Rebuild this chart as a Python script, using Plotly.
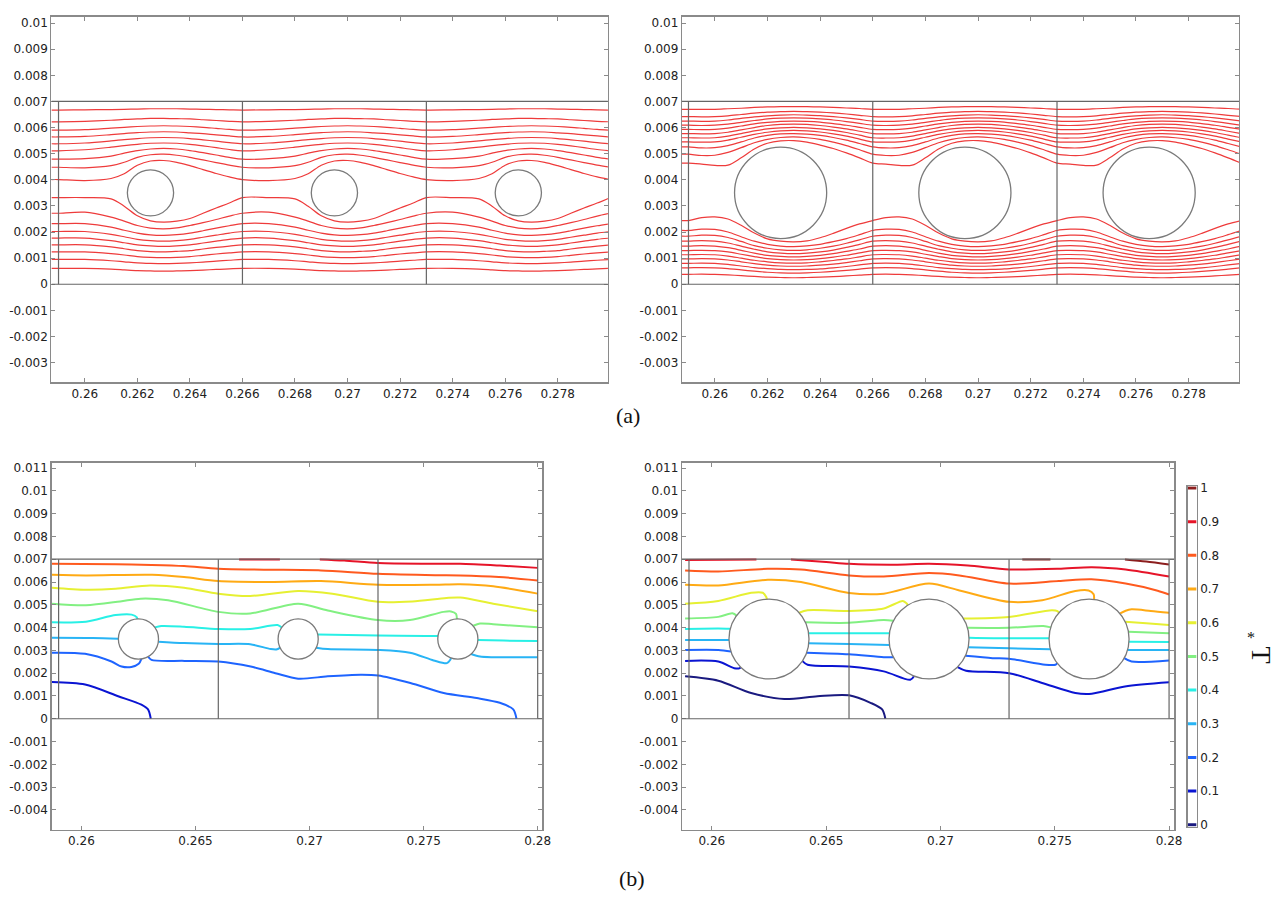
import plotly.graph_objects as go

W, H = 1287, 903

# ---------------- geometry (mm) ----------------
CELL_STARTS = [259.0, 266.0, 273.0]
DOMAIN_X = [259.0, 266.0, 273.0, 280.0]      # vertical cell boundaries
CHANNEL_Y = [0.0, 7.0]                       # bottom / top walls
CYL_CENTERS_X = [262.5, 269.5, 276.5]
CYL_CENTER_Y = 3.5
R_SMALL = 0.88
R_LARGE = 1.75

# ---------------- (a) left: streamlines, one periodic cell (mm) ----------------
TL_OFFSETS = [0, 1, 2, 2.5, 3, 3.5, 4, 4.5, 5, 5.5, 6, 6.5, 7]
TL_LINES = [
    [6.67, 6.68, 6.69, 6.70, 6.71, 6.72, 6.72, 6.72, 6.71, 6.70, 6.69, 6.68, 6.67],
    [6.22, 6.24, 6.28, 6.31, 6.33, 6.35, 6.35, 6.34, 6.33, 6.30, 6.27, 6.24, 6.22],
    [5.90, 5.92, 5.98, 6.01, 6.04, 6.06, 6.07, 6.06, 6.04, 6.01, 5.97, 5.93, 5.90],
    [5.64, 5.66, 5.73, 5.77, 5.81, 5.83, 5.84, 5.83, 5.80, 5.77, 5.72, 5.68, 5.64],
    [5.38, 5.41, 5.49, 5.54, 5.58, 5.61, 5.62, 5.61, 5.58, 5.53, 5.48, 5.42, 5.38],
    [5.11, 5.15, 5.25, 5.31, 5.36, 5.40, 5.41, 5.40, 5.36, 5.30, 5.23, 5.16, 5.11],
    [4.79, 4.81, 4.91, 5.02, 5.12, 5.18, 5.20, 5.18, 5.12, 5.04, 4.95, 4.86, 4.79],
    [4.48, 4.46, 4.54, 4.67, 4.86, 4.96, 4.98, 4.94, 4.86, 4.76, 4.66, 4.56, 4.48],
    [4.01, 3.97, 4.05, 4.23, 4.56, 4.72, 4.74, 4.67, 4.54, 4.39, 4.24, 4.11, 4.01],
    [3.32, 3.32, 3.27, 2.99, 2.62, 2.43, 2.38, 2.42, 2.52, 2.72, 2.92, 3.11, 3.32],
    [2.72, 2.76, 2.57, 2.42, 2.25, 2.15, 2.12, 2.16, 2.25, 2.36, 2.48, 2.61, 2.72],
    [2.32, 2.32, 2.19, 2.07, 1.96, 1.89, 1.87, 1.90, 1.96, 2.05, 2.15, 2.24, 2.32],
    [2.02, 2.02, 1.91, 1.82, 1.72, 1.67, 1.65, 1.67, 1.72, 1.80, 1.88, 1.96, 2.02],
    [1.77, 1.77, 1.67, 1.59, 1.51, 1.47, 1.45, 1.47, 1.51, 1.58, 1.65, 1.72, 1.77],
    [1.51, 1.51, 1.43, 1.36, 1.29, 1.25, 1.24, 1.26, 1.29, 1.35, 1.41, 1.46, 1.51],
    [1.24, 1.24, 1.17, 1.12, 1.06, 1.03, 1.02, 1.03, 1.06, 1.11, 1.16, 1.20, 1.24],
    [0.95, 0.95, 0.90, 0.86, 0.82, 0.80, 0.79, 0.80, 0.82, 0.85, 0.89, 0.92, 0.95],
    [0.61, 0.61, 0.58, 0.55, 0.52, 0.51, 0.50, 0.51, 0.52, 0.54, 0.57, 0.59, 0.61],
]

# ---------------- (a) right: streamlines, one periodic cell (mm) ----------------
TR_OFFSETS = [0, 0.5, 1, 1.5, 2, 2.5, 3, 3.5, 4, 4.5, 5, 5.5, 6, 6.5, 7]
TR_LINES = [
    [6.70, 6.70, 6.70, 6.72, 6.74, 6.77, 6.79, 6.80, 6.80, 6.80, 6.79, 6.77, 6.75, 6.73, 6.70],
    [6.42, 6.41, 6.42, 6.45, 6.50, 6.55, 6.59, 6.61, 6.62, 6.61, 6.59, 6.56, 6.52, 6.47, 6.42],
    [6.25, 6.24, 6.25, 6.29, 6.35, 6.41, 6.45, 6.48, 6.49, 6.48, 6.46, 6.42, 6.37, 6.31, 6.25],
    [6.09, 6.08, 6.09, 6.13, 6.20, 6.27, 6.33, 6.36, 6.37, 6.36, 6.33, 6.29, 6.23, 6.16, 6.09],
    [5.93, 5.92, 5.93, 5.98, 6.06, 6.14, 6.20, 6.24, 6.25, 6.24, 6.21, 6.15, 6.09, 6.01, 5.93],
    [5.77, 5.76, 5.77, 5.82, 5.91, 6.00, 6.08, 6.12, 6.13, 6.12, 6.08, 6.02, 5.95, 5.86, 5.77],
    [5.61, 5.60, 5.61, 5.67, 5.77, 5.87, 5.95, 5.99, 6.01, 5.99, 5.95, 5.89, 5.81, 5.71, 5.61],
    [5.45, 5.44, 5.45, 5.52, 5.63, 5.74, 5.82, 5.87, 5.89, 5.87, 5.83, 5.76, 5.67, 5.56, 5.45],
    [5.26, 5.22, 5.23, 5.31, 5.45, 5.60, 5.70, 5.76, 5.77, 5.75, 5.70, 5.62, 5.52, 5.39, 5.26],
    [4.98, 4.93, 4.94, 5.05, 5.23, 5.42, 5.55, 5.62, 5.64, 5.61, 5.55, 5.44, 5.31, 5.15, 4.98],
    [4.64, 4.60, 4.55, 4.56, 4.84, 5.18, 5.40, 5.49, 5.50, 5.44, 5.33, 5.20, 5.03, 4.84, 4.64],
    [2.44, 2.55, 2.58, 2.50, 2.26, 1.96, 1.74, 1.65, 1.62, 1.66, 1.78, 1.95, 2.14, 2.31, 2.44],
    [2.06, 2.11, 2.10, 2.00, 1.82, 1.65, 1.53, 1.46, 1.44, 1.47, 1.53, 1.63, 1.75, 1.90, 2.06],
    [1.84, 1.88, 1.87, 1.79, 1.64, 1.48, 1.38, 1.32, 1.30, 1.32, 1.38, 1.46, 1.57, 1.70, 1.84],
    [1.65, 1.67, 1.65, 1.58, 1.46, 1.34, 1.24, 1.19, 1.17, 1.19, 1.24, 1.31, 1.41, 1.53, 1.65],
    [1.46, 1.48, 1.46, 1.40, 1.30, 1.19, 1.11, 1.07, 1.05, 1.07, 1.11, 1.17, 1.26, 1.35, 1.46],
    [1.29, 1.30, 1.29, 1.24, 1.15, 1.06, 0.98, 0.94, 0.93, 0.94, 0.98, 1.04, 1.11, 1.20, 1.29],
    [1.13, 1.14, 1.13, 1.08, 1.00, 0.92, 0.86, 0.82, 0.81, 0.82, 0.86, 0.91, 0.97, 1.05, 1.13],
    [0.97, 0.98, 0.97, 0.93, 0.86, 0.79, 0.73, 0.70, 0.69, 0.70, 0.73, 0.77, 0.83, 0.90, 0.97],
    [0.80, 0.81, 0.80, 0.76, 0.70, 0.64, 0.60, 0.57, 0.56, 0.57, 0.59, 0.63, 0.68, 0.74, 0.80],
    [0.63, 0.64, 0.63, 0.60, 0.55, 0.50, 0.46, 0.44, 0.43, 0.44, 0.46, 0.49, 0.53, 0.58, 0.63],
    [0.38, 0.39, 0.38, 0.36, 0.33, 0.30, 0.27, 0.26, 0.25, 0.26, 0.27, 0.29, 0.32, 0.35, 0.38],
]

# ---------------- (b) isotherm levels and colours ----------------
LEVELS = [0, 0.1, 0.2, 0.3, 0.4, 0.5, 0.6, 0.7, 0.8, 0.9, 1.0]
LEVEL_LABELS = ["0", "0.1", "0.2", "0.3", "0.4", "0.5", "0.6", "0.7", "0.8", "0.9", "1"]
LEVEL_COLORS = ["#1a1a80", "#0a14d2", "#1e64ff", "#28b4f5", "#28f0e6", "#82f082",
                "#e6f032", "#ffaa14", "#ff5a1e", "#e61428", "#8c1e1e"]

# (b) left isotherm segments: (level, x mm, y mm)
BL_ISO = [
    (0.9, [266.91, 268.70], [6.99, 6.99]),
    (0.9, [270.45, 271.52, 273.0, 275.15, 276.6, 278.34, 280.0], [6.99, 6.94, 6.83, 6.80, 6.80, 6.72, 6.62]),
    (0.8, [258.71, 261.5, 263.07, 264.5, 266.0, 268.0, 270.5, 273.0, 275.5, 276.6, 278.3, 280.0],
          [6.80, 6.78, 6.75, 6.70, 6.58, 6.54, 6.51, 6.36, 6.30, 6.29, 6.22, 6.07]),
    (0.7, [258.71, 260.2, 263.1, 264.5, 266.0, 268.3, 270.5, 273.0, 275.5, 276.6, 278.05, 280.0],
          [6.32, 6.29, 6.32, 6.22, 6.04, 6.00, 6.04, 5.88, 5.88, 5.90, 5.81, 5.49]),
    (0.6, [258.71, 260.2, 261.5, 263.0, 264.5, 266.0, 267.4, 269.5, 271.0, 273.0, 274.5, 276.0, 276.6, 278.05, 280.0],
          [5.75, 5.66, 5.70, 5.85, 5.75, 5.49, 5.39, 5.61, 5.49, 5.13, 5.15, 5.30, 5.32, 5.05, 4.72]),
    (0.5, [258.71, 260.2, 261.7, 262.6, 263.8, 266.0, 267.4, 269.5, 270.8, 273.0, 274.4, 275.87, 276.2, 276.42, 276.46],
          [5.05, 4.98, 5.15, 5.27, 5.20, 4.69, 4.62, 5.05, 4.75, 4.33, 4.33, 4.69, 4.71, 4.60, 4.38]),
    (0.5, [277.18, 277.47, 278.05, 280.0], [4.08, 4.18, 4.15, 4.01]),
    (0.4, [258.71, 260.2, 261.5, 262.2, 262.43, 262.45], [4.23, 4.26, 4.55, 4.57, 4.45, 4.37]),
    (0.4, [263.22, 263.5, 264.5, 266.0, 267.4, 268.6, 268.78], [4.01, 4.07, 4.04, 3.94, 3.94, 4.11, 4.00]),
    (0.4, [270.36, 273.0, 275.1, 275.63], [3.70, 3.65, 3.63, 3.63]),
    (0.4, [277.38, 278.5, 280.0], [3.46, 3.43, 3.41]),
    (0.3, [258.71, 260.5, 261.62], [3.55, 3.54, 3.51]),
    (0.3, [263.37, 264.5, 266.0, 267.4, 268.3, 268.58, 268.71], [3.38, 3.32, 3.28, 3.27, 3.06, 3.05, 3.12]),
    (0.3, [270.29, 270.8, 273.0, 274.4, 275.44, 276.02, 276.17, 276.2], [3.12, 3.06, 3.02, 2.90, 2.56, 2.44, 2.59, 2.67]),
    (0.3, [277.08, 277.47, 278.05, 280.0], [2.84, 2.73, 2.70, 2.70]),
    (0.2, [258.71, 260.16, 261.32, 261.76, 262.19, 262.51, 262.63], [2.90, 2.85, 2.51, 2.29, 2.27, 2.41, 2.63]),
    (0.2, [262.92, 263.07, 264.52, 266.0, 267.42, 268.5, 269.5, 270.79, 272.24, 273.0, 274.42, 275.88, 277.33, 278.34, 278.93, 279.07],
          [2.73, 2.58, 2.54, 2.51, 2.29, 2.00, 1.76, 1.86, 1.93, 1.90, 1.57, 1.13, 0.91, 0.70, 0.41, 0.0]),
    (0.1, [258.71, 260.16, 261.61, 262.63, 262.92, 263.04], [1.61, 1.50, 0.99, 0.62, 0.41, 0.0]),
]

# (b) right isotherm segments: (level, x mm, y mm)
BR_ISO = [
    (1.0, [273.58, 274.81], [6.99, 6.99]),
    (1.0, [278.07, 279.0, 280.0], [6.99, 6.90, 6.77]),
    (0.9, [258.83, 260.5, 261.95], [6.97, 6.98, 6.99]),
    (0.9, [263.46, 265.0, 266.0, 268.0, 269.5, 271.2, 273.0, 275.17, 276.62, 278.1, 280.0],
          [6.99, 6.88, 6.80, 6.76, 6.80, 6.72, 6.55, 6.58, 6.65, 6.55, 6.24]),
    (0.8, [258.83, 260.28, 262.45, 263.9, 266.0, 267.52, 269.5, 270.83, 273.0, 275.17, 276.6, 278.1, 279.5, 280.0],
          [6.51, 6.46, 6.58, 6.55, 6.29, 6.24, 6.39, 6.29, 5.93, 6.04, 6.12, 5.93, 5.62, 5.45]),
    (0.7, [258.83, 260.28, 262.45, 263.9, 266.0, 267.52, 269.5, 270.83, 273.0, 274.45, 275.9, 276.48, 276.7, 276.72],
          [5.88, 5.85, 6.10, 6.00, 5.52, 5.49, 5.93, 5.63, 5.13, 5.20, 5.61, 5.63, 5.46, 5.25]),
    (0.7, [277.86, 278.1, 278.36, 279.2, 280.0], [4.62, 4.74, 4.80, 4.73, 4.65]),
    (0.6, [258.83, 260.28, 261.72, 262.23, 262.38, 262.41], [5.05, 5.17, 5.53, 5.53, 5.34, 5.24]),
    (0.6, [263.82, 264.19, 266.0, 267.52, 268.35, 268.5, 268.58], [4.65, 4.76, 4.73, 4.84, 5.17, 5.08, 4.99]),
    (0.6, [271.0, 273.0, 274.88, 275.12, 275.18], [4.40, 4.47, 4.76, 4.72, 4.65]),
    (0.6, [278.08, 279.0, 280.0], [4.26, 4.19, 4.11]),
    (0.5, [258.83, 260.28, 260.9, 261.1], [4.40, 4.47, 4.63, 4.51]),
    (0.5, [264.09, 266.0, 267.52, 267.94], [4.23, 4.21, 4.33, 4.30]),
    (0.5, [271.18, 273.0, 274.5, 274.83], [3.99, 3.99, 4.07, 4.01]),
    (0.5, [278.22, 280.0], [3.82, 3.75]),
    (0.4, [258.83, 260.28, 260.81], [3.94, 3.96, 3.95]),
    (0.4, [264.23, 266.0, 267.77], [3.75, 3.75, 3.75]),
    (0.4, [271.25, 273.0, 274.75], [3.56, 3.53, 3.53]),
    (0.4, [278.25, 280.0], [3.38, 3.37]),
    (0.3, [258.83, 260.75], [3.46, 3.46]),
    (0.3, [264.2, 266.0, 267.77], [3.31, 3.28, 3.24]),
    (0.3, [271.21, 273.0, 274.81], [3.14, 3.09, 3.05]),
    (0.3, [278.18, 280.0], [3.02, 3.02]),
    (0.2, [258.83, 260.28, 260.84], [3.02, 3.02, 2.95]),
    (0.2, [264.14, 266.0, 267.52, 267.94], [2.90, 2.83, 2.70, 2.70]),
    (0.2, [271.09, 272.28, 273.0, 274.59, 275.03, 275.11], [2.76, 2.66, 2.63, 2.37, 2.37, 2.44]),
    (0.2, [278.04, 278.36, 280.0], [2.66, 2.51, 2.56]),
    (0.1, [258.83, 260.28, 260.98, 261.2, 261.28], [2.54, 2.51, 2.22, 2.21, 2.27]),
    (0.1, [263.95, 264.19, 266.0, 267.52, 268.68, 268.85], [2.54, 2.37, 2.29, 2.08, 1.71, 1.88]),
    (0.1, [270.75, 271.12, 273.0, 274.45, 275.9, 276.62, 278.07, 280.0], [2.27, 2.11, 2.00, 1.57, 1.13, 1.10, 1.42, 1.60]),
    (0.0, [258.83, 260.28, 261.72, 263.17, 264.62, 266.0, 266.94, 267.45, 267.59], [1.86, 1.67, 1.13, 0.87, 0.99, 1.03, 0.70, 0.41, 0.0]),
]

# ---------------- axis ticks ----------------
TOP_XTICKS = [0.26, 0.262, 0.264, 0.266, 0.268, 0.27, 0.272, 0.274, 0.276, 0.278]
TOP_XLABELS = ["0.26", "0.262", "0.264", "0.266", "0.268", "0.27", "0.272", "0.274", "0.276", "0.278"]
TOP_YTICKS = [0.01, 0.009, 0.008, 0.007, 0.006, 0.005, 0.004, 0.003, 0.002, 0.001, 0, -0.001, -0.002, -0.003]
TOP_YLABELS = ["0.01", "0.009", "0.008", "0.007", "0.006", "0.005", "0.004", "0.003", "0.002", "0.001",
               "0", "-0.001", "-0.002", "-0.003"]
BOT_XTICKS = [0.26, 0.265, 0.27, 0.275, 0.28]
BOT_XLABELS = ["0.26", "0.265", "0.27", "0.275", "0.28"]
BOT_YTICKS = [0.011, 0.01, 0.009, 0.008, 0.007, 0.006, 0.005, 0.004, 0.003, 0.002, 0.001, 0,
              -0.001, -0.002, -0.003, -0.004]
BOT_YLABELS = ["0.011", "0.01", "0.009", "0.008", "0.007", "0.006", "0.005", "0.004", "0.003", "0.002",
               "0.001", "0", "-0.001", "-0.002", "-0.003", "-0.004"]

# ================================================================
MM = 1e-3
TICKFONT = dict(family="DejaVu Sans", size=12, color="#222222")
FRAME = "#8a8a8a"
WALL = "#666666"
STREAM = "#ee3b3b"

panels = [
    dict(xa="x", ya="y", xd=(51.8, 612.2), yd=(11.7, 381.7), xr=(0.25873, 0.27991), yr=(-0.00376, 0.01025),
         xt=(TOP_XTICKS, TOP_XLABELS), yt=(TOP_YTICKS, TOP_YLABELS), r=R_SMALL),
    dict(xa="x2", ya="y2", xd=(686.7, 1247.9), yd=(11.7, 381.7), xr=(0.25875, 0.27992), yr=(-0.00376, 0.01025),
         xt=(TOP_XTICKS, TOP_XLABELS), yt=(TOP_YTICKS, TOP_YLABELS), r=R_LARGE),
    dict(xa="x3", ya="y3", xd=(51.9, 546.3), yd=(462.7, 834.0), xr=(0.25869, 0.28021), yr=(-0.00487, 0.01124),
         xt=(BOT_XTICKS, BOT_XLABELS), yt=(BOT_YTICKS, BOT_YLABELS), r=R_SMALL),
    dict(xa="x4", ya="y4", xd=(686.7, 1182.6), yd=(462.7, 834.0), xr=(0.25869, 0.28023), yr=(-0.00487, 0.01124),
         xt=(BOT_XTICKS, BOT_XLABELS), yt=(BOT_YTICKS, BOT_YLABELS), r=R_LARGE),
]

fig = go.Figure()
shapes = []
layout = {}


def axkey(a):
    return ("xaxis" if a[0] == "x" else "yaxis") + a[1:]


def tile_cell(offsets, ys, x_left_mm):
    xs, yv = [x_left_mm], [ys[0]]
    for k, c in enumerate(CELL_STARTS):
        for j, (o, y) in enumerate(zip(offsets, ys)):
            if k > 0 and j == 0:
                continue
            xs.append(c + o)
            yv.append(y)
    return [v * MM for v in xs], [v * MM for v in yv]


for p in panels:
    xk, yk = axkey(p["xa"]), axkey(p["ya"])
    layout[xk] = dict(domain=[p["xd"][0] / W, p["xd"][1] / W], range=list(p["xr"]), anchor=p["ya"],
                      showgrid=False, zeroline=False, showline=True, linecolor=FRAME, linewidth=1.2,
                      mirror="ticks", ticks="inside", ticklen=4, tickcolor=FRAME,
                      tickvals=p["xt"][0], ticktext=p["xt"][1], tickfont=TICKFONT)
    layout[yk] = dict(domain=[1 - p["yd"][1] / H, 1 - p["yd"][0] / H], range=list(p["yr"]), anchor=p["xa"],
                      showgrid=False, zeroline=False, showline=True, linecolor=FRAME, linewidth=1.2,
                      mirror="ticks", ticks="inside", ticklen=4, tickcolor=FRAME,
                      tickvals=p["yt"][0], ticktext=p["yt"][1], tickfont=TICKFONT)
    xref, yref = p["xa"], p["ya"]
    for yw in CHANNEL_Y:
        shapes.append(dict(type="line", xref=xref, yref=yref, x0=p["xr"][0], x1=p["xr"][1],
                           y0=yw * MM, y1=yw * MM, line=dict(color=WALL, width=1.2), layer="above"))
    for xv in DOMAIN_X:
        shapes.append(dict(type="line", xref=xref, yref=yref, x0=xv * MM, x1=xv * MM,
                           y0=CHANNEL_Y[0] * MM, y1=CHANNEL_Y[1] * MM,
                           line=dict(color=WALL, width=1.2), layer="above"))
    for cx in CYL_CENTERS_X:
        shapes.append(dict(type="circle", xref=xref, yref=yref,
                           x0=(cx - p["r"]) * MM, x1=(cx + p["r"]) * MM,
                           y0=(CYL_CENTER_Y - p["r"]) * MM, y1=(CYL_CENTER_Y + p["r"]) * MM,
                           line=dict(color="#7a7a7a", width=1.3), fillcolor="white", layer="above"))

# streamlines (a)
for lines, offs, p in [(TL_LINES, TL_OFFSETS, panels[0]), (TR_LINES, TR_OFFSETS, panels[1])]:
    for ys in lines:
        xs, yv = tile_cell(offs, ys, p["xr"][0] / MM)
        fig.add_trace(go.Scatter(x=xs, y=yv, mode="lines", xaxis=p["xa"], yaxis=p["ya"],
                                 line=dict(color=STREAM, width=1.2, shape="spline", smoothing=0.9),
                                 hoverinfo="skip", showlegend=False))

# isotherms (b)
for segs, p in [(BL_ISO, panels[2]), (BR_ISO, panels[3])]:
    for lev, xs, ys in segs:
        col = LEVEL_COLORS[LEVELS.index(lev)]
        fig.add_trace(go.Scatter(x=[v * MM for v in xs], y=[v * MM for v in ys], mode="lines",
                                 xaxis=p["xa"], yaxis=p["ya"],
                                 line=dict(color=col, width=2.0, shape="spline", smoothing=0.8),
                                 hoverinfo="skip", showlegend=False))

# colour legend bar
layout["xaxis5"] = dict(domain=[1196 / W, 1205 / W], range=[0, 1], anchor="y5", showgrid=False,
                        zeroline=False, showline=True, linecolor=FRAME, linewidth=1.2, mirror=True,
                        showticklabels=False, ticks="")
layout["yaxis5"] = dict(domain=[1 - 831 / H, 1 - 486.7 / H], range=[-0.006, 1.005], anchor="x5",
                        side="right", showgrid=False, zeroline=False, showline=True, linecolor=FRAME,
                        linewidth=1.2, mirror=True, ticks="", tickvals=LEVELS, ticktext=LEVEL_LABELS,
                        tickfont=TICKFONT)
for lev, col in zip(LEVELS, LEVEL_COLORS):
    fig.add_trace(go.Scatter(x=[0, 1], y=[lev, lev], mode="lines", xaxis="x5", yaxis="y5",
                             line=dict(color=col, width=3), hoverinfo="skip", showlegend=False))


def note(text, x, y, size, angle=0):
    return dict(text=text, x=x / W, y=1 - y / H, xref="paper", yref="paper", showarrow=False,
                xanchor="center", yanchor="middle", textangle=angle,
                font=dict(family="Liberation Serif", size=size, color="#111111"))


annotations = [
    note("(a)", 632, 415, 22),
    note("(b)", 636, 883, 22),
    note("T", 1270, 657, 28, 90),
    note("*", 1260, 640, 16),
]

fig.update_layout(width=W, height=H, margin=dict(l=0, r=0, t=0, b=0), autosize=False,
                  paper_bgcolor="white", plot_bgcolor="white", showlegend=False,
                  shapes=shapes, annotations=annotations, **layout)

fig.write_html("out.html", config={"displayModeBar": False, "staticPlot": True},
               post_script="document.body.style.margin='0px';document.body.style.overflow='hidden';")
